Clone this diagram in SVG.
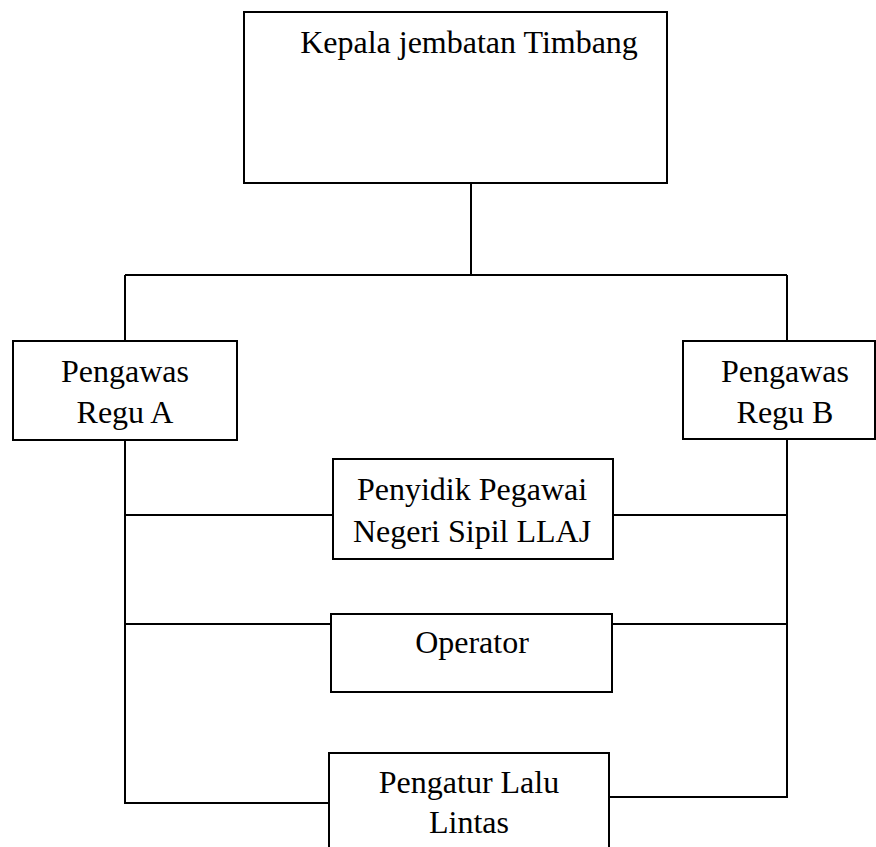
<svg xmlns="http://www.w3.org/2000/svg" width="876" height="847" viewBox="0 0 876 847">
<style>
.box{fill:#fff;stroke:#000;stroke-width:2}
.ln{fill:none;stroke:#000;stroke-width:2}
text{font-family:"Liberation Serif","Times New Roman",serif;font-size:32px;fill:#000;text-anchor:middle}
</style>
<rect width="876" height="847" fill="#fff"/>
<g id="connectors">
<path class="ln" d="M471 183V275M125 275H787M125 275V341M787 275V341"/>
<path class="ln" d="M125 440V803H329M787 439V797H609"/>
<path class="ln" d="M125 515H333M613 515H787"/>
<path class="ln" d="M125 624H331M612 624H787"/>
</g>
<g id="kepala"><rect class="box" x="244" y="12" width="423" height="171"/><text x="469" y="53">Kepala jembatan Timbang</text></g>
<g id="regu-a"><rect class="box" x="13" y="341" width="224" height="99"/><text x="125" y="382">Pengawas</text><text x="125" y="423">Regu A</text></g>
<g id="regu-b"><rect class="box" x="683" y="341" width="192" height="98"/><text x="785" y="382">Pengawas</text><text x="785" y="423">Regu B</text></g>
<g id="ppns"><rect class="box" x="333" y="459" width="280" height="100"/><text x="472" y="500">Penyidik Pegawai</text><text x="472" y="542">Negeri Sipil LLAJ</text></g>
<g id="operator"><rect class="box" x="331" y="614" width="281" height="78"/><text x="472" y="653">Operator</text></g>
<g id="pengatur"><rect class="box" x="329" y="753" width="280" height="110"/><text x="469" y="793">Pengatur Lalu</text><text x="469" y="833">Lintas</text></g>
</svg>
